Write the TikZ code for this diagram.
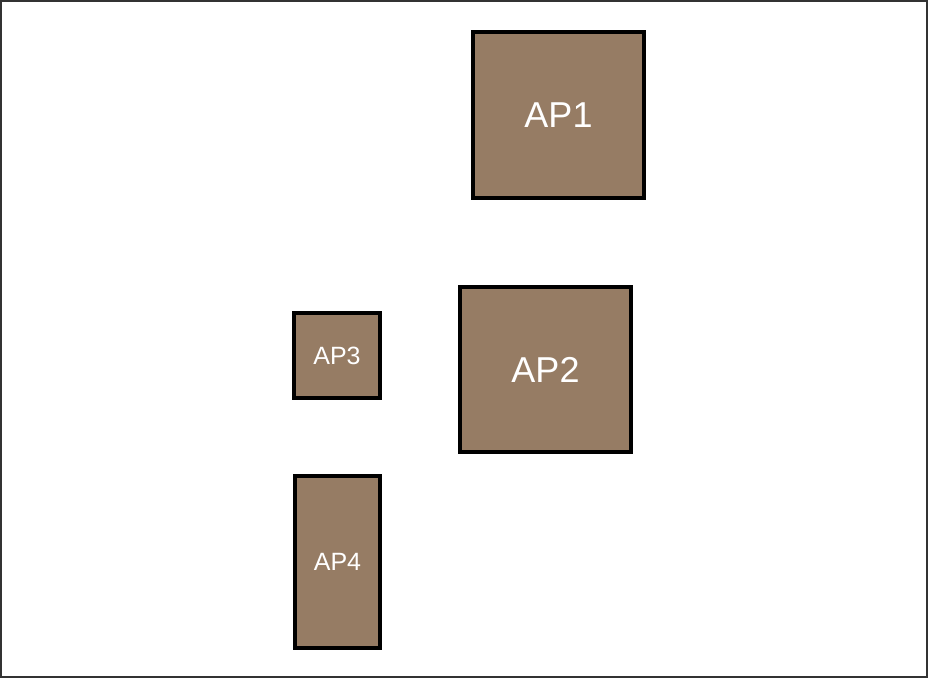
\documentclass[tikz,border=0pt]{standalone}
\usepackage{fontspec}
\setmainfont{Liberation Sans}
\definecolor{apfill}{HTML}{967C64}
\definecolor{framecol}{HTML}{333333}
\begin{document}
\begin{tikzpicture}[x=1pt,y=-1pt,
  apbox/.style={draw=black, line width=4pt, fill=apfill, text=white, inner sep=0pt, rectangle},
  big/.style={font=\fontsize{36}{36}\selectfont},
  small/.style={font=\fontsize{25}{25}\selectfont}]
\useasboundingbox (0,0) rectangle (928,678);
\draw[framecol, line width=2.5pt] (1,1) rectangle (927,677);
\node[apbox, big, minimum width=171pt, minimum height=166pt] (ap1) at (558.5,115) {\raisebox{-2pt}{AP1}};
\node[apbox, big, minimum width=171pt, minimum height=165pt] (ap2) at (545.5,369.5) {\raisebox{-2pt}{AP2}};
\node[apbox, small, minimum width=86pt, minimum height=85pt] (ap3) at (337,355.5) {\raisebox{-2pt}{AP3}};
\node[apbox, small, minimum width=85pt, minimum height=172pt] (ap4) at (337.5,562) {\raisebox{-2pt}{AP4}};
\end{tikzpicture}
\end{document}
